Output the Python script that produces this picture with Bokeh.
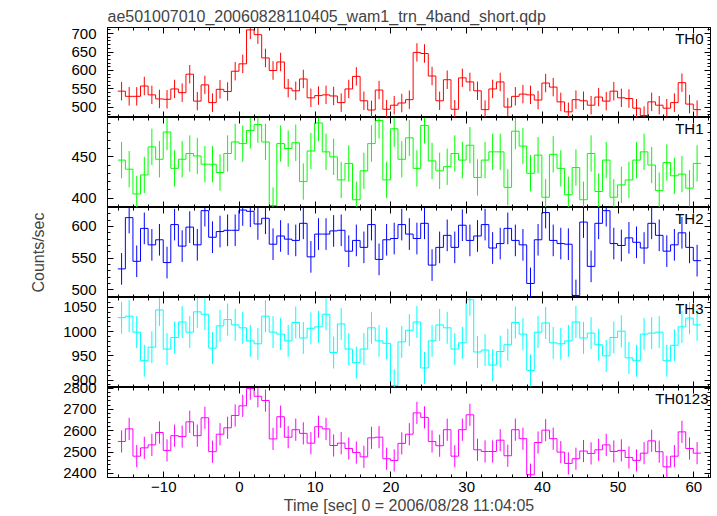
from bokeh.plotting import figure
from bokeh.models import Range1d, LinearAxis, FixedTicker, Label, Title
from bokeh.layouts import column
from bokeh.embed import file_html
from bokeh.resources import INLINE

FONT = "Liberation Sans"

TITLE = "ae501007010_20060828110405_wam1_trn_4band_short.qdp"
XLABEL = "Time [sec] 0 = 2006/08/28 11:04:05"
YLABEL = "Counts/sec"

# light-curve bins (1 s wide)
T_START = -16.07
BIN_WIDTH = 1.0

TH0 = [544, 530, 530, 558, 534, 523, 522, 550, 540, 590, 517, 561, 513, 549, 543, 598,
       618, 710, 697, 634, 600, 623, 552, 545, 577, 526, 532, 534, 531, 513, 550, 584,
       518, 493, 547, 495, 506, 512, 521, 649, 646, 585, 518, 575, 495, 580, 569, 545,
       494, 550, 569, 501, 530, 536, 534, 520, 566, 555, 515, 488, 521, 518, 506, 528,
       517, 544, 526, 524, 498, 478, 515, 506, 498, 513, 567, 509, 494]
TH1 = [446, 435, 405, 428, 462, 447, 480, 436, 447, 454, 451, 441, 441, 431, 454, 468,
       466, 482, 489, 468, 391, 466, 460, 467, 420, 457, 491, 456, 450, 422, 442, 398,
       433, 466, 494, 422, 484, 447, 473, 436, 488, 445, 433, 438, 454, 446, 464, 425,
       446, 456, 456, 413, 481, 463, 430, 452, 401, 453, 436, 404, 437, 398, 454, 408,
       446, 401, 416, 422, 446, 456, 440, 409, 443, 427, 429, 412, 442]
TH2 = [533, 614, 545, 597, 571, 579, 543, 603, 569, 599, 571, 625, 583, 592, 594, 594,
       626, 624, 604, 613, 572, 585, 580, 578, 605, 552, 588, 588, 593, 594, 561, 578,
       567, 603, 548, 579, 581, 603, 588, 581, 605, 539, 567, 586, 567, 602, 578, 585,
       603, 566, 573, 597, 578, 571, 510, 579, 622, 578, 573, 572, 491, 607, 537, 605,
       625, 573, 570, 582, 575, 566, 605, 586, 561, 571, 590, 567, 546]
TH3 = [1029, 1032, 999, 940, 968, 1045, 964, 988, 1020, 999, 1041, 1036, 966, 1012, 1025, 1014,
       1008, 981, 975, 1032, 999, 995, 981, 1019, 987, 1007, 1010, 1036, 957, 1016, 964, 936,
       964, 1008, 981, 976, 889, 979, 1003, 1020, 925, 981, 1014, 1008, 964, 977, 1066, 958,
       962, 931, 959, 973, 1019, 995, 920, 999, 1018, 977, 975, 981, 1020, 987, 997, 973,
       950, 988, 1001, 946, 940, 995, 997, 999, 940, 972, 1010, 1028, 1014]
TH0123 = [2550, 2609, 2481, 2520, 2534, 2592, 2508, 2577, 2573, 2642, 2577, 2661, 2502, 2584, 2614, 2672,
          2717, 2798, 2762, 2742, 2562, 2666, 2570, 2605, 2588, 2542, 2619, 2609, 2531, 2542, 2517, 2498,
          2478, 2567, 2570, 2469, 2461, 2541, 2584, 2684, 2663, 2550, 2530, 2605, 2481, 2605, 2675, 2511,
          2503, 2503, 2556, 2483, 2605, 2563, 2394, 2545, 2603, 2563, 2500, 2447, 2469, 2505, 2494, 2511,
          2534, 2503, 2508, 2475, 2461, 2495, 2553, 2502, 2431, 2481, 2595, 2517, 2495]

SERIES = [TH0, TH1, TH2, TH3, TH0123]
NAMES = ["TH0", "TH1", "TH2", "TH3", "TH0123"]
ERRORS = [25, 22, 25, 33, 52]
COLORS = ["#ff0000", "#00ff00", "#0000ff", "#00ffff", "#ff00ff"]
Y_RANGES = [(472.7, 716.4), (388.6, 497.6), (487.8, 630.0), (884.7, 1070.6), (2381.0, 2803.0)]
Y_MAJOR = [[500, 550, 600, 650, 700], [400, 450], [500, 550, 600],
           [900, 950, 1000, 1050], [2400, 2500, 2600, 2700, 2800]]
Y_MINOR_STEP = [10, 10, 10, 10, 20]
X_MAJOR = [-10, 0, 10, 20, 30, 40, 50, 60]
X_RANGE = (-17.43, 62.2)

LABEL_XOFF = [-7, -7, -7, -7, -2]

TIME = [T_START + BIN_WIDTH * (i + 0.5) for i in range(len(TH0))]
EDGES = [T_START + BIN_WIDTH * i for i in range(len(TH0) + 1)]

x_minor = list(range(-18, 64, 2))
x_overrides = {t: str(t).replace("-", "\u2212") for t in X_MAJOR}

BORDER_LEFT, BORDER_RIGHT = 107, 7
BORDER_TOP, BORDER_BOTTOM = 27, 39
FRAME_W, FRAME_H = 603, 90
SPILL = 8  # transparent strip that lets an edge tick label overlap the panel above

xr = Range1d(*X_RANGE)
figs = []
for i, (vals, name, err, col, yr, ymaj, ystep) in enumerate(
        zip(SERIES, NAMES, ERRORS, COLORS, Y_RANGES, Y_MAJOR, Y_MINOR_STEP)):
    top = i == 0
    bottom = i == len(SERIES) - 1
    btop = BORDER_TOP if top else (SPILL if bottom else 0)
    bbot = BORDER_BOTTOM if bottom else 0
    p = figure(width=BORDER_LEFT + FRAME_W + BORDER_RIGHT, height=FRAME_H + btop + bbot,
               x_range=xr, y_range=Range1d(*yr),
               output_backend="svg", toolbar_location=None,
               x_axis_location=None, y_axis_location=None,
               min_border_left=BORDER_LEFT, min_border_right=BORDER_RIGHT,
               min_border_top=btop, min_border_bottom=bbot)
    p.xgrid.visible = False
    p.ygrid.visible = False
    p.outline_line_color = "black"
    p.outline_line_width = 1
    p.background_fill_color = "white"
    p.border_fill_color = "white"
    if bottom:
        p.border_fill_color = None
        p.styles = {"margin-top": f"-{SPILL}px"}

    y_minor = list(range(int(yr[0]) // ystep * ystep, int(yr[1]) + ystep, ystep))

    def mk_axis(ticks, minor, show_labels, overrides=None):
        ax = LinearAxis(ticker=FixedTicker(ticks=ticks, minor_ticks=minor))
        ax.major_tick_in = 6
        ax.major_tick_out = 0
        ax.minor_tick_in = 3
        ax.minor_tick_out = 0
        ax.axis_line_color = "black"
        ax.major_tick_line_color = "black"
        ax.minor_tick_line_color = "black"
        if show_labels:
            ax.major_label_text_font = FONT
            ax.major_label_text_font_size = "15px"
            ax.major_label_text_color = "black"
            if overrides:
                ax.major_label_overrides = overrides
        else:
            ax.major_label_text_font_size = "0px"
            ax.major_label_text_color = None
            ax.major_label_standoff = 0
        return ax

    left = mk_axis(ymaj, y_minor, True)
    left.major_label_standoff = 11
    if i == 2:
        left.axis_label = YLABEL
        left.axis_label_text_font = FONT
        left.axis_label_text_font_size = "16px"
        left.axis_label_text_font_style = "normal"
        left.axis_label_standoff = 21
    p.add_layout(left, "left")
    p.add_layout(mk_axis(ymaj, y_minor, False), "right")
    p.add_layout(mk_axis(X_MAJOR, x_minor, False), "above")
    below = mk_axis(X_MAJOR, x_minor, bottom, x_overrides)
    if bottom:
        below.major_label_standoff = 4
    p.add_layout(below, "below")
    if bottom:
        xt = Title(text=XLABEL, align="center", offset=-9, text_font=FONT,
                   text_font_size="16px", text_font_style="normal", standoff=0)
        p.add_layout(xt, "below")

    if top:
        p.title.text = TITLE
        p.title.align = "left"
        p.title.text_font = FONT
        p.title.text_font_size = "16px"
        p.title.text_font_style = "normal"
        p.title.standoff = 6

    p.step(x=EDGES, y=vals + [vals[-1]], mode="after", line_color=col, line_width=1)
    p.segment(x0=TIME, x1=TIME, y0=[v - err for v in vals], y1=[v + err for v in vals],
              line_color=col, line_width=1)

    p.add_layout(Label(x=X_RANGE[1], y=yr[1], x_offset=LABEL_XOFF[i], y_offset=-2,
                       text=name, text_align="right", text_baseline="top",
                       text_font=FONT, text_font_size="15px", text_color="black"))
    figs.append(p)

layout = column(*figs, spacing=0)
open("out.html", "w").write(file_html(layout, INLINE))
